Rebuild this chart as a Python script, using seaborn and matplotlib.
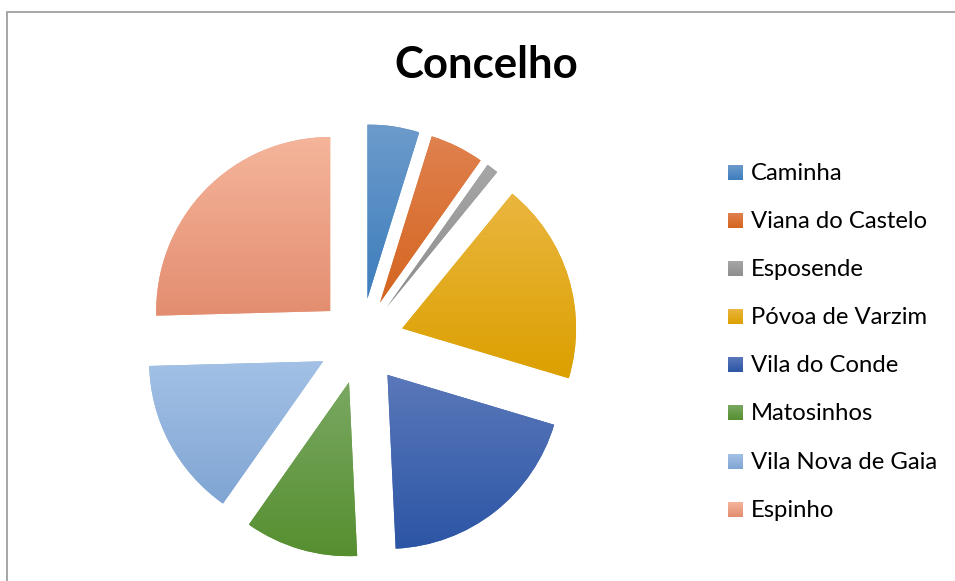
import numpy as np
import matplotlib
matplotlib.use("Agg")
import matplotlib.pyplot as plt
import seaborn as sns
from matplotlib.colors import LinearSegmentedColormap

# ---- data ----
categories = ["Caminha", "Viana do Castelo", "Esposende", "Póvoa de Varzim",
              "Vila do Conde", "Matosinhos", "Vila Nova de Gaia", "Espinho"]
values = [4.8, 5.0, 1.1, 18.7, 19.6, 10.5, 14.8, 25.4]
title = "Concelho"

# gradient colours (top -> bottom of each slice)
top_colors = ["#6C9BCB", "#E0814F", "#A6A6A6", "#EAB63F",
              "#5A78BA", "#7AA862", "#A3C1E6", "#F5B59B"]
bottom_colors = ["#3D7DBD", "#D4651F", "#8E8E8E", "#DCA000",
                 "#2C55A5", "#568F30", "#80A5D3", "#E38D70"]

sns.set_theme(style="white")
plt.rcParams['font.family'] = ['Lato', 'DejaVu Sans']

W, H = 955, 581
fig = plt.figure(figsize=(W / 100, H / 100), dpi=100)
fig.patch.set_facecolor("white")

# pie axes placed in pixel terms
R = 174.0
cx, cy = 361.0, 341.0
half = 1.5 * R
ax = fig.add_axes([(cx - half) / W, (H - cy - half) / H, 2 * half / W, 2 * half / H])
mid_colors = [sns.blend_palette([t, b], 3)[1] for t, b in zip(top_colors, bottom_colors)]
wedges, _ = ax.pie(values, startangle=90, counterclock=False,
                   explode=[0.247] * len(values),
                   colors=mid_colors,
                   wedgeprops=dict(linewidth=0))

grad = np.linspace(0, 1, 256).reshape(-1, 1)
for w, t, b in zip(wedges, top_colors, bottom_colors):
    ext = w.get_path().transformed(w.get_patch_transform()).get_extents()
    cmap = LinearSegmentedColormap.from_list("g", [t, b])
    im = ax.imshow(grad, cmap=cmap, extent=[ext.x0, ext.x1, ext.y0, ext.y1],
                   origin="upper", aspect="auto", zorder=3, interpolation="bilinear")
    im.set_clip_path(w)
ax.set_xlim(-1.5, 1.5)
ax.set_ylim(-1.5, 1.5)
ax.set_aspect("equal")
ax.axis("off")

# overlay in pixel coordinates for title, legend, border
ov = fig.add_axes([0, 0, 1, 1])
ov.patch.set_visible(False)
ov.axis("off")

ov.plot([6, W], [12, 12], color="#A6A6A6", lw=1.4, solid_capstyle="butt")
ov.plot([6.5, 6.5], [12, H], color="#A6A6A6", lw=1.4, solid_capstyle="butt")

ov.text(486.5, 78, title, ha="center", va="baseline", fontsize=31.5,
        fontweight="bold", color="black")

sq = 15
for i, (lab, t, b) in enumerate(zip(categories, top_colors, bottom_colors)):
    base = 180 + 48.1 * i
    cmap = LinearSegmentedColormap.from_list("g", [t, b])
    ov.imshow(grad, cmap=cmap, extent=[728, 728 + sq, base, base - sq],
              origin="upper", aspect="auto", interpolation="bilinear")
    ov.text(751, base, lab, ha="left", va="baseline", fontsize=17.2, color="black")

ov.set_xlim(0, W)
ov.set_ylim(H, 0)
ov.set_aspect("auto")

fig.savefig("out.png", dpi=100)
